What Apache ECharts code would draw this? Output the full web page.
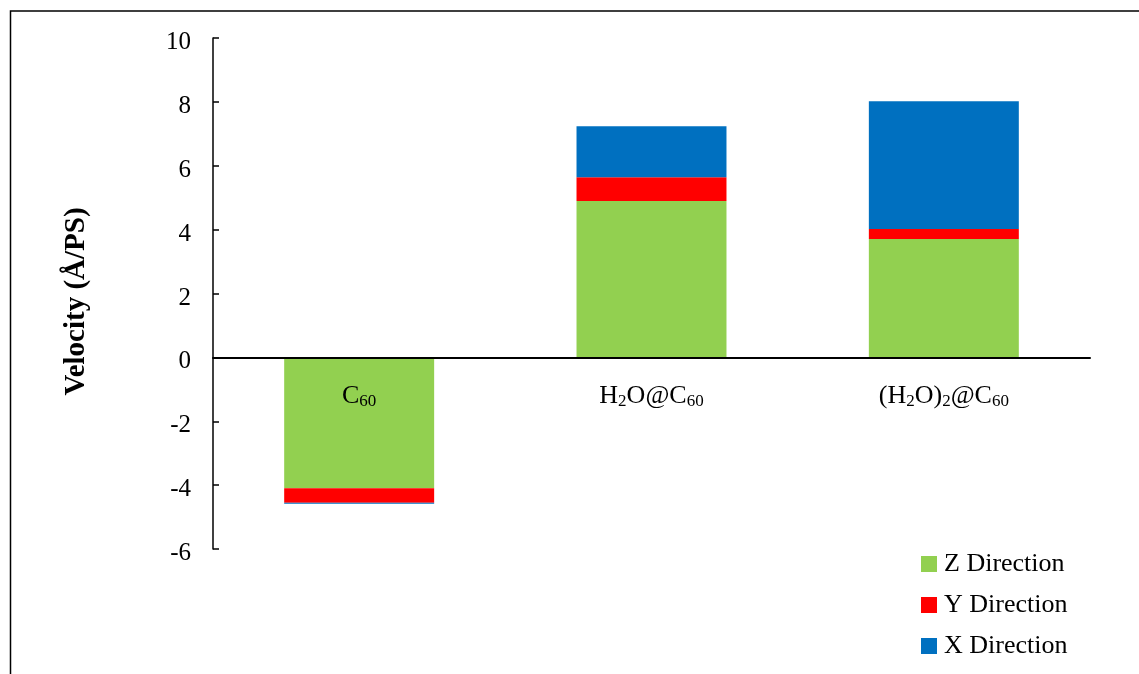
<!DOCTYPE html>
<html>
<head>
<meta charset="utf-8">
<script src="https://cdn.jsdelivr.net/npm/echarts@6/dist/echarts.min.js"></script>
<style>html,body{margin:0;padding:0;background:#fff}#c{width:1139px;height:674px}</style>
</head>
<body>
<div id="c"></div>
<script>
const categories = ['C60', 'H2O@C60', '(H2O)2@C60'];
const categoryLabels = ['{n|C}{s|60}', '{n|H}{s|2}{n|O@C}{s|60}', '{n|(H}{s|2}{n|O)}{s|2}{n|@C}{s|60}'];
const zDirection = [-4.1, 4.9, 3.71];
const yDirection = [-0.45, 0.74, 0.31];
const xDirection = [-0.03, 1.6, 4.0];
const seriesNames = ['Z Direction', 'Y Direction', 'X Direction'];
const seriesColors = ['#92D050', '#FF0000', '#0070C0'];
const yTicks = { min: -6, max: 10, interval: 2 };

const font = '"Liberation Serif", "Times New Roman", serif';
const chart = echarts.init(document.getElementById('c'));
const values = [zDirection, yDirection, xDirection];
chart.setOption({
  animation: false,
  backgroundColor: '#fff',
  grid: { left: 213, right: 49, top: 38, bottom: 125 },
  legend: {
    orient: 'vertical', left: 916, top: 546,
    icon: 'rect', itemWidth: 16, itemHeight: 16, itemGap: 15,
    data: seriesNames,
    textStyle: { fontFamily: font, fontSize: 26, color: '#000', padding: [0, 0, 0, 2] }
  },
  xAxis: {
    type: 'category', data: categories, z: 10,
    axisLine: { onZero: true, lineStyle: { color: '#000', width: 2 } },
    axisTick: { show: false },
    axisLabel: {
      interval: 0, margin: -166,
      formatter: (v, i) => categoryLabels[i],
      rich: {
        n: { fontFamily: font, fontSize: 26, color: '#000' },
        s: { fontFamily: font, fontSize: 17, color: '#000', padding: [10, 0, 0, 0] }
      }
    }
  },
  yAxis: {
    type: 'value', min: yTicks.min, max: yTicks.max, interval: yTicks.interval,
    name: 'Velocity (Å/PS)', nameLocation: 'middle', nameGap: 122,
    nameTextStyle: { fontFamily: font, fontSize: 29, fontWeight: 'bold', color: '#000', padding: [0, 16, 0, 0] },
    axisLine: { show: true, lineStyle: { color: '#000', width: 1.5 } },
    axisTick: { show: true, inside: true, length: 6, lineStyle: { color: '#000', width: 1.5 } },
    axisLabel: {
      margin: 22, formatter: '{t|{value}}',
      rich: { t: { fontFamily: font, fontSize: 25, color: '#000', padding: [9, 0, 0, 0] } }
    },
    splitLine: { show: false }
  },
  series: seriesNames.map((name, k) => ({
    name, type: 'bar', stack: 'v', barWidth: '51.3%',
    itemStyle: { color: seriesColors[k] },
    data: values[k]
  })),
  graphic: [{
    type: 'polyline', silent: true,
    shape: { points: [[10.5, 674], [10.5, 11], [1139, 11]] },
    style: { stroke: '#000', lineWidth: 1.5, fill: null }
  }]
});
</script>
</body>
</html>
